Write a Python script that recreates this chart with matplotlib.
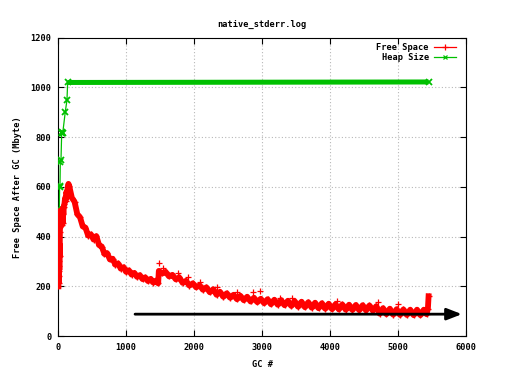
import matplotlib
matplotlib.use("Agg")
import matplotlib.pyplot as plt

# ---------------- data ----------------
free_x = [2, 4, 6, 8, 10, 12, 14, 16, 18, 20, 24, 28, 32, 36, 40, 45, 50, 55, 60, 65,
          70, 75, 80, 90, 100, 110, 120, 130, 140, 150,
          160, 200, 240, 280, 320, 360, 400, 440, 480, 520, 560, 600, 640, 680, 720,
          760, 800, 840, 880, 920, 960, 1000, 1040, 1080, 1120, 1160, 1200, 1240,
          1280, 1320, 1360, 1400, 1440, 1470,
          1480, 1530, 1580, 1630, 1680, 1730, 1780, 1830, 1880, 1930, 1980, 2030,
          2080, 2130, 2180, 2230, 2280, 2330, 2380, 2430, 2480, 2530, 2580, 2630,
          2680, 2730, 2780, 2830, 2880, 2930, 2980, 3030, 3080, 3130, 3180, 3230,
          3280, 3330, 3380, 3430, 3480, 3530, 3580, 3630, 3680, 3730, 3780, 3830,
          3880, 3930, 3980, 4030, 4080, 4130, 4180, 4230, 4280, 4330, 4380, 4430,
          4480, 4530, 4580, 4630, 4680, 4730, 4780, 4830, 4880, 4930, 4980, 5030,
          5080, 5130, 5180, 5230, 5280, 5330, 5380, 5420, 5440, 5450]
free_y = [200, 260, 215, 300, 240, 280, 330, 270, 370, 320, 420, 470, 505, 480, 500, 460, 445, 470, 500, 455,
          515, 490, 520, 530, 555, 545, 580, 560, 600, 612,
          605, 556, 540, 490, 478, 441, 436, 404, 409, 388, 402, 366, 360, 330, 333,
          308, 311, 287, 292, 271, 277, 258, 264, 247, 254, 238, 245, 229,
          236, 221, 230, 215, 223, 212,
          262, 252, 258, 240, 246, 228, 236, 214, 222, 203, 212, 196,
          204, 186, 196, 176, 188, 166, 178, 158, 172, 154, 166, 148,
          162, 144, 158, 139, 154, 136, 150, 132, 148, 128, 146, 126,
          144, 124, 142, 121, 140, 118, 138, 116, 136, 114, 134, 112,
          132, 110, 130, 108, 128, 107, 127, 106, 126, 105, 125, 104,
          124, 103, 123, 102, 120, 90, 112, 88, 110, 86, 108, 85,
          107, 85, 106, 84, 106, 84, 106, 88, 110, 160]

# isolated high readings of the free-space series
spike_x = [1486, 1545, 1766, 1913, 2085, 2330, 2625, 2870, 2968, 3262, 3434, 4100, 4700, 5000]
spike_y = [292, 272, 252, 239, 218, 198, 178, 178, 181, 152, 152, 140, 135, 128]

heap_x = [10, 15, 20, 25, 30, 40, 50, 55, 60, 65, 103, 128, 138, 5450]
heap_y = [510, 507, 600, 603, 700, 708, 815, 818, 820, 815, 902, 949, 1020, 1022]

arrow_x = [1130, 5940]
arrow_y = [88, 88]

x_ticks = [0, 1000, 2000, 3000, 4000, 5000, 6000]
y_ticks = [0, 200, 400, 600, 800, 1000, 1200]

title = "native_stderr.log"
xlabel = "GC #"
ylabel = "Free Space After GC (Mbyte)"

# ---------------- plot ----------------
FONT = "DejaVu Sans Mono"
FS = 6.2
RED = "#ff0000"
GREEN = "#00c000"

fig = plt.figure(figsize=(5.18, 3.81), dpi=100)
ax = fig.add_axes([0.1125, 0.118, 0.787, 0.783])

# heap size
ax.plot(heap_x, heap_y, color=GREEN, lw=0.9, marker="x", ms=4.5, mew=1.3, zorder=3)
flat = [(x, y) for x, y in zip(heap_x, heap_y) if y >= 1000]
ax.plot([p[0] for p in flat], [p[1] for p in flat], color=GREEN, lw=3.6,
        solid_capstyle="butt", zorder=3)

# free space
ax.plot(free_x, free_y, color=RED, lw=4.2, marker="+", ms=5, mew=1.0, zorder=4)
ax.plot(spike_x, spike_y, color=RED, lw=0, marker="+", ms=5, mew=0.9, zorder=4)

# legend proxies
ax.plot([], [], color=RED, lw=0.9, marker="+", ms=5, mew=0.9, label="Free Space")
ax.plot([], [], color=GREEN, lw=0.9, marker="x", ms=3.5, mew=0.9, label="Heap Size")
handles, labels = ax.get_legend_handles_labels()
leg = ax.legend(handles, labels, loc="upper right", frameon=False, markerfirst=False,
                prop={"family": FONT, "weight": "bold", "size": FS},
                handlelength=2.6, handletextpad=0.6, labelspacing=0.15,
                borderaxespad=0.0, bbox_to_anchor=(0.985, 0.995))

# arrow
ax.annotate("", xy=(arrow_x[1], arrow_y[1]), xytext=(arrow_x[0], arrow_y[0]),
            arrowprops=dict(arrowstyle="-|>,head_length=0.9,head_width=0.35",
                            color="black", lw=2.0, shrinkA=0, shrinkB=0),
            zorder=5)

ax.set_xlim(0, 6000)
ax.set_ylim(0, 1200)
ax.set_xticks(x_ticks)
ax.set_yticks(y_ticks)
ax.set_xticklabels([str(t) for t in x_ticks])
ax.set_yticklabels([str(t) for t in y_ticks])
ax.tick_params(direction="in", length=4, width=0.8, top=True, right=True,
               labelsize=FS, pad=5, colors="black")
for lab in ax.get_xticklabels() + ax.get_yticklabels():
    lab.set_fontfamily(FONT)
    lab.set_fontweight("bold")

ax.grid(True, color="#b8b8b8", linestyle=(0, (1, 2)), linewidth=0.8)
ax.set_axisbelow(True)
for s in ax.spines.values():
    s.set_linewidth(0.8)
    s.set_color("black")

ax.set_title(title, fontfamily=FONT, fontweight="bold", fontsize=FS, pad=8)
ax.set_xlabel(xlabel, fontfamily=FONT, fontweight="bold", fontsize=FS, labelpad=6)
ax.set_ylabel(ylabel, fontfamily=FONT, fontweight="bold", fontsize=FS, labelpad=6)

fig.savefig("out.png", dpi=100)
